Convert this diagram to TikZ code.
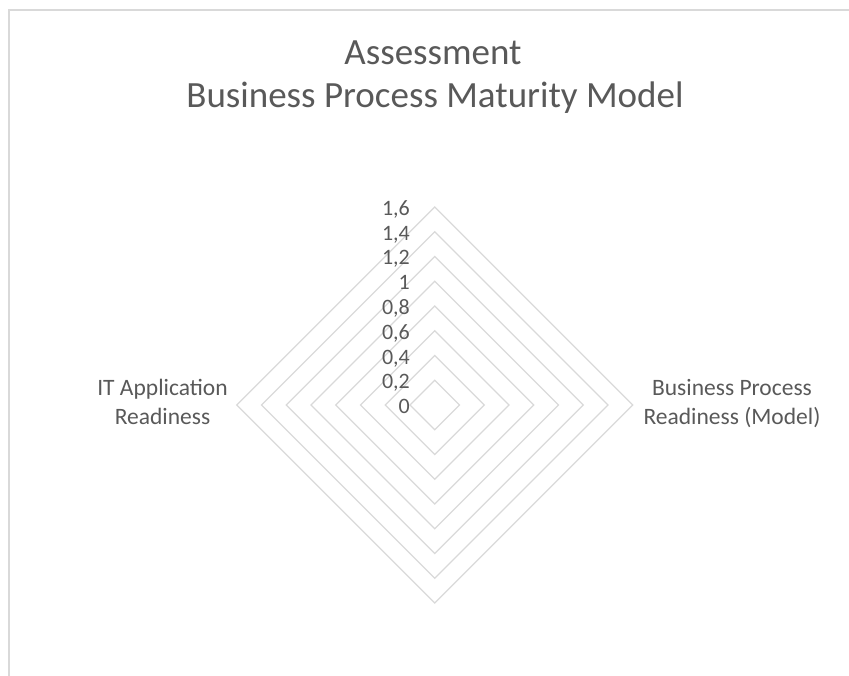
\documentclass[tikz,border=0pt]{standalone}
\usepackage{fontspec}
\setmainfont{Carlito}
\usetikzlibrary{calc}
\definecolor{txtgray}{HTML}{595959}
\definecolor{gridgray}{HTML}{D9D9D9}
\tikzset{
  gridline/.style={draw=gridgray, line width=1.3pt},
  frameline/.style={draw=gridgray, line width=1.5pt},
  titletext/.style={text=txtgray, font=\fontsize{37}{41}\selectfont, inner sep=0pt, anchor=base},
  ticktext/.style={text=txtgray, font=\fontsize{22}{24}\selectfont, inner sep=0pt, anchor=base east},
  axistext/.style={text=txtgray, font=\fontsize{23.5}{28.5}\selectfont, inner sep=0pt, align=center, anchor=base}
}
\begin{document}
\begin{tikzpicture}[x=1pt,y=-1pt]
\useasboundingbox (0,0) rectangle (849,676);
% chart frame
\draw[frameline] (9,676) -- (9,10) -- (849,10);
% title
\node[titletext] (t1) at (433,65) {Assessment};
\node[titletext] (t2) at (435,108) {Business Process Maturity Model};
% grid diamonds
\coordinate (c) at (434.7,405);
\foreach \k in {1,...,8}{
  \pgfmathsetmacro{\r}{24.75*\k}
  \draw[gridline] ($(c)+(0,-\r)$) -- ($(c)+(\r,0)$) -- ($(c)+(0,\r)$) -- ($(c)+(-\r,0)$) -- cycle;
}
% tick labels
\foreach \k/\lab in {0/0,1/{0,2},2/{0,4},3/{0,6},4/{0,8},5/1,6/{1,2},7/{1,4},8/{1,6}}{
  \pgfmathsetmacro{\yy}{405-24.75*\k+8.5}
  \node[ticktext] (tick\k) at (410,\yy) {\lab};
}
% axis labels (base anchor = last line baseline)
\node[axistext] (lblL) at (162.5,424) {IT Application\\Readiness};
\node[axistext] (lblR) at (732,424) {Business Process\\Readiness (Model)};
\end{tikzpicture}
\end{document}
